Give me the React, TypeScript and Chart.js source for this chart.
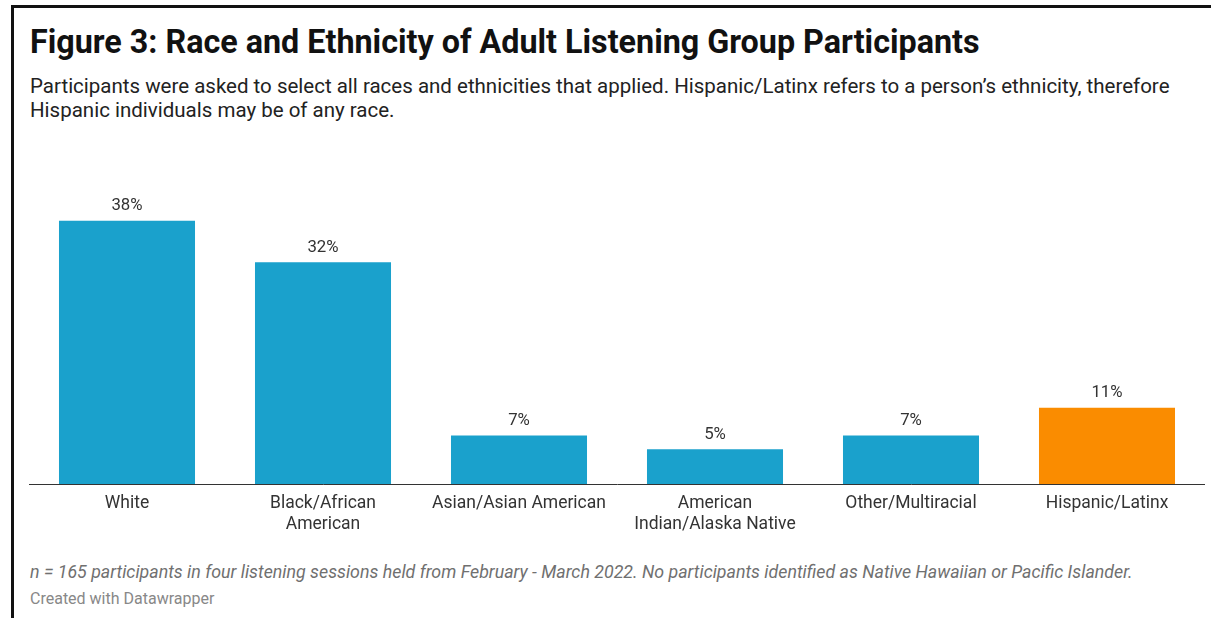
import React, { useEffect, useRef } from "react";
import { Chart, registerables } from "chart.js";

Chart.register(...registerables);

const categories: (string | string[])[] = [
  "White",
  ["Black/African", "American"],
  "Asian/Asian American",
  ["American", "Indian/Alaska Native"],
  "Other/Multiracial",
  "Hispanic/Latinx",
];
const values: number[] = [38, 32, 7, 5, 7, 11];
const barColors: string[] = ["#1aa1cc", "#1aa1cc", "#1aa1cc", "#1aa1cc", "#1aa1cc", "#fa8c00"];

const titleText = "Figure 3: Race and Ethnicity of Adult Listening Group Participants";
const subtitleText =
  "Participants were asked to select all races and ethnicities that applied. Hispanic/Latinx refers to a person\u2019s ethnicity, therefore Hispanic individuals may be of any race.";
const noteText =
  "n = 165 participants in four listening sessions held from February - March 2022. No participants identified as Native Hawaiian or Pacific Islander.";
const creditText = "Created with Datawrapper";

const valueLabelPlugin = {
  id: "valueLabels",
  afterDatasetsDraw(chart: any) {
    const ctx = chart.ctx;
    const meta = chart.getDatasetMeta(0);
    ctx.save();
    ctx.font = "16.8px Roboto";
    ctx.fillStyle = "#333333";
    ctx.textAlign = "center";
    ctx.textBaseline = "middle";
    meta.data.forEach((bar: any, i: number) => {
      ctx.fillText(values[i] + "%", bar.x, bar.y - 15);
    });
    ctx.restore();
  },
};

export default function App() {
  const canvasRef = useRef<HTMLCanvasElement | null>(null);

  useEffect(() => {
    document.body.style.margin = "0";
    const canvas = canvasRef.current;
    if (!canvas) return;
    const chart = new Chart(canvas, {
      type: "bar",
      data: {
        labels: categories,
        datasets: [
          {
            data: values,
            backgroundColor: barColors,
            borderWidth: 0,
            barPercentage: 0.694,
            categoryPercentage: 1,
          },
        ],
      },
      options: {
        animation: false,
        responsive: false,
        maintainAspectRatio: false,
        layout: { padding: { top: 20, left: 0, right: 0, bottom: 0 } },
        plugins: {
          legend: { display: false },
          tooltip: { enabled: false },
          title: { display: false },
        },
        scales: {
          x: {
            offset: true,
            grid: { display: false, drawTicks: false },
            border: { display: true, color: "#333333", width: 1 },
            ticks: {
              color: "#333333",
              padding: 9,
              maxRotation: 0,
              autoSkip: false,
              font: { family: "Roboto", size: 17.5, lineHeight: 1.2 },
            },
            afterFit: (scale: any) => {
              scale.height = 60;
            },
          },
          y: {
            display: false,
            min: 0,
            max: 41,
          },
        },
      },
      plugins: [valueLabelPlugin],
    });
    return () => chart.destroy();
  }, []);

  return (
    <div
      style={{
        position: "relative",
        width: 1211,
        height: 618,
        overflow: "hidden",
        background: "#ffffff",
        fontFamily: "Roboto, sans-serif",
      }}
    >
      <div
        style={{
          position: "absolute",
          left: 11,
          top: 5,
          width: 1400,
          height: 800,
          border: "3px solid #111111",
        }}
      />
      <div
        style={{
          position: "absolute",
          left: 30,
          top: 22,
          fontSize: 32.3,
          fontWeight: 700,
          color: "#111111",
          whiteSpace: "nowrap",
          lineHeight: "40px",
        }}
      >
        {titleText}
      </div>
      <div
        style={{
          position: "absolute",
          left: 30,
          top: 74,
          width: 1165,
          fontSize: 20.5,
          color: "#222222",
          lineHeight: "24px",
        }}
      >
        {subtitleText}
      </div>
      <canvas
        ref={canvasRef}
        width={1176}
        height={364}
        style={{ position: "absolute", left: 29, top: 180, width: 1176, height: 364 }}
      />
      <div
        style={{
          position: "absolute",
          left: 30,
          top: 561,
          fontSize: 17.8,
          fontStyle: "italic",
          color: "#707070",
          whiteSpace: "nowrap",
          lineHeight: "22px",
        }}
      >
        {noteText}
      </div>
      <div
        style={{
          position: "absolute",
          left: 30,
          top: 590,
          fontSize: 16,
          color: "#888888",
          whiteSpace: "nowrap",
          lineHeight: "18px",
        }}
      >
        {creditText}
      </div>
    </div>
  );
}
